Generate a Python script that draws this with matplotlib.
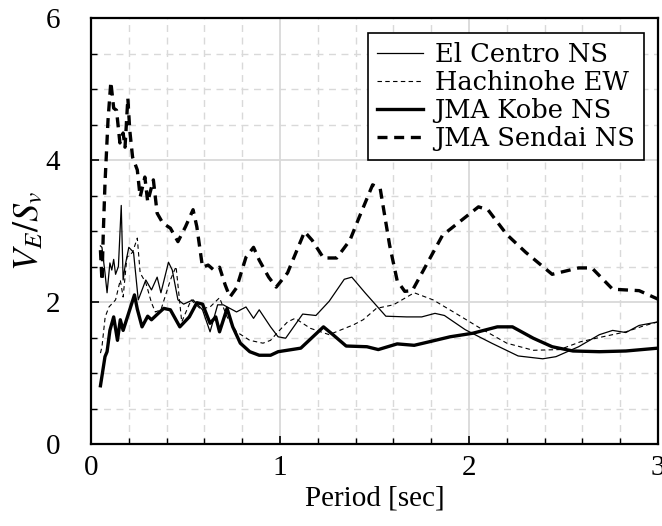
import matplotlib
matplotlib.use("Agg")
import matplotlib.pyplot as plt
from matplotlib.ticker import MultipleLocator

# ---- data ----
t_elcentro = [0.05, 0.058, 0.074, 0.085, 0.10, 0.11, 0.12, 0.13, 0.145, 0.16, 0.17, 0.18, 0.20,
              0.225, 0.25, 0.29, 0.32, 0.35, 0.37, 0.41, 0.43, 0.46, 0.49, 0.54, 0.59, 0.63,
              0.67, 0.70, 0.77, 0.82, 0.86, 0.89, 0.95, 0.99, 1.03, 1.12, 1.19, 1.26, 1.34,
              1.38, 1.45, 1.56, 1.67, 1.75, 1.82, 1.87, 1.98, 2.12, 2.26, 2.39, 2.46, 2.58,
              2.69, 2.76, 2.83, 2.90, 3.0]
v_elcentro = [2.79, 2.77, 2.41, 2.13, 2.55, 2.45, 2.60, 2.39, 2.50, 3.36, 2.31, 2.50, 2.77,
              2.70, 2.03, 2.31, 2.17, 2.35, 2.13, 2.56, 2.45, 2.03, 1.97, 2.03, 1.89, 1.58,
              1.96, 1.96, 1.86, 1.93, 1.77, 1.89, 1.65, 1.51, 1.49, 1.83, 1.81, 2.01, 2.32,
              2.35, 2.13, 1.80, 1.79, 1.79, 1.84, 1.81, 1.61, 1.42, 1.24, 1.20, 1.23, 1.37,
              1.54, 1.60, 1.57, 1.67, 1.72]

t_hachinohe = [0.05, 0.058, 0.075, 0.095, 0.13, 0.155, 0.17, 0.19, 0.22, 0.245, 0.26, 0.29,
               0.32, 0.34, 0.37, 0.42, 0.45, 0.48, 0.53, 0.58, 0.63, 0.68, 0.72, 0.77, 0.84,
               0.91, 0.95, 0.99, 1.04, 1.08, 1.16, 1.26, 1.39, 1.44, 1.51, 1.60, 1.71, 1.81,
               1.93, 2.06, 2.20, 2.34, 2.48, 2.59, 2.69, 2.83, 2.92, 3.0]
v_hachinohe = [1.28, 1.37, 1.79, 1.93, 2.03, 2.31, 2.07, 2.63, 2.70, 2.90, 2.41, 2.27,
               1.99, 1.86, 1.89, 2.31, 2.50, 1.72, 2.03, 1.90, 1.93, 2.06, 1.79, 1.58, 1.46,
               1.42, 1.46, 1.58, 1.72, 1.77, 1.63, 1.54, 1.68, 1.75, 1.91, 1.96, 2.13, 2.03,
               1.84, 1.63, 1.42, 1.32, 1.33, 1.44, 1.50, 1.58, 1.66, 1.72]

t_kobe = [0.05, 0.074, 0.085, 0.10, 0.12, 0.14, 0.155, 0.17, 0.20, 0.23, 0.245, 0.27, 0.30,
          0.32, 0.36, 0.385, 0.42, 0.47, 0.52, 0.56, 0.59, 0.63, 0.66, 0.68, 0.72, 0.75, 0.79,
          0.84, 0.89, 0.95, 0.99, 1.11, 1.23, 1.28, 1.35, 1.46, 1.52, 1.62, 1.71, 1.79, 1.90,
          2.02, 2.15, 2.23, 2.34, 2.44, 2.55, 2.69, 2.83, 3.0]
v_kobe = [0.82, 1.23, 1.30, 1.60, 1.79, 1.46, 1.75, 1.60, 1.85, 2.10, 1.90, 1.65, 1.80,
          1.75, 1.85, 1.91, 1.89, 1.65, 1.79, 1.99, 1.97, 1.70, 1.79, 1.58, 1.91, 1.65, 1.42,
          1.30, 1.25, 1.25, 1.30, 1.35, 1.65, 1.54, 1.38, 1.37, 1.33, 1.41, 1.39, 1.44, 1.51,
          1.56, 1.65, 1.65, 1.49, 1.37, 1.31, 1.30, 1.31, 1.35]

t_sendai = [0.05, 0.058, 0.065, 0.074, 0.09, 0.105, 0.12, 0.135, 0.153, 0.17, 0.18, 0.195,
            0.205, 0.22, 0.245, 0.26, 0.285, 0.30, 0.33, 0.35, 0.38, 0.42, 0.46, 0.50, 0.54,
            0.56, 0.59, 0.62, 0.65, 0.68, 0.71, 0.735, 0.77, 0.82, 0.86, 0.89, 0.94, 0.98,
            1.04, 1.13, 1.17, 1.23, 1.30, 1.37, 1.42, 1.49, 1.53, 1.58, 1.62, 1.66, 1.70,
            1.86, 2.05, 2.10, 2.20, 2.30, 2.44, 2.58, 2.65, 2.76, 2.90, 3.0]
v_sendai = [2.73, 2.30, 2.97, 3.67, 4.56, 5.10, 4.73, 4.70, 4.24, 4.38, 4.18, 4.87,
            4.42, 4.04, 3.86, 3.48, 3.76, 3.41, 3.72, 3.25, 3.11, 3.04, 2.85, 3.06, 3.30,
            3.06, 2.49, 2.52, 2.45, 2.49, 2.24, 2.07, 2.20, 2.63, 2.77, 2.59, 2.35, 2.21,
            2.41, 2.99, 2.87, 2.62, 2.62, 2.87, 3.20, 3.65, 3.60, 2.80, 2.30, 2.15, 2.16,
            2.94, 3.34, 3.30, 2.95, 2.70, 2.39, 2.48, 2.48, 2.18, 2.16, 2.04]

labels = ["El Centro NS", "Hachinohe EW", "JMA Kobe NS", "JMA Sendai NS"]
x_label = "Period [sec]"
y_label = r"$V_E/S_v$"

plt.rcParams["mathtext.fontset"] = "stix"
plt.rcParams["font.family"] = ["Liberation Serif", "DejaVu Serif"]

fig = plt.figure(figsize=(6.62, 5.26), dpi=100)
ax = fig.add_axes([91 / 662, 1 - 444 / 526, (658 - 91) / 662, (444 - 18) / 526])

ax.plot(t_elcentro, v_elcentro, color="black", lw=0.9, ls="-", label=labels[0], zorder=3)
ax.plot(t_hachinohe, v_hachinohe, color="black", lw=0.8, ls=(0, (4, 3)), label=labels[1], zorder=3)
ax.plot(t_kobe, v_kobe, color="black", lw=2.4, ls="-", label=labels[2], zorder=3)
ax.plot(t_sendai, v_sendai, color="black", lw=2.4, ls=(0, (3, 2)), label=labels[3], zorder=3)

ax.set_xlim(0, 3)
ax.set_ylim(0, 6)
ax.xaxis.set_major_locator(MultipleLocator(1))
ax.xaxis.set_minor_locator(MultipleLocator(0.2))
ax.yaxis.set_major_locator(MultipleLocator(2))
ax.yaxis.set_minor_locator(MultipleLocator(0.5))

ax.grid(which="minor", color="#d9d9d9", lw=1.0, ls=(0, (5, 4)), zorder=0)
ax.grid(which="major", color="#d9d9d9", lw=1.3, ls="-", zorder=0)
ax.set_axisbelow(True)

ax.tick_params(which="both", direction="in", colors="black", labelsize=21)
ax.tick_params(which="major", length=6, width=1.2)
ax.tick_params(which="minor", length=4, width=1.0)
ax.tick_params(axis="x", which="major", pad=8)
ax.tick_params(axis="y", which="major", pad=22)
for s in ax.spines.values():
    s.set_linewidth(1.6)
    s.set_color("black")

ax.set_xlabel(x_label, fontsize=21, labelpad=3)
ax.set_ylabel(y_label, fontsize=26, labelpad=0)

leg = ax.legend(loc="upper right", bbox_to_anchor=(0.976, 0.965),
                prop={"family": "DejaVu Serif", "size": 18.5},
                frameon=True, fancybox=False, handlelength=1.8, handletextpad=0.45,
                labelspacing=0.12, borderpad=0.35, borderaxespad=0)
leg.get_frame().set_edgecolor("black")
leg.get_frame().set_linewidth(1.2)
leg.get_frame().set_alpha(1)

fig.savefig("out.png", dpi=100)
